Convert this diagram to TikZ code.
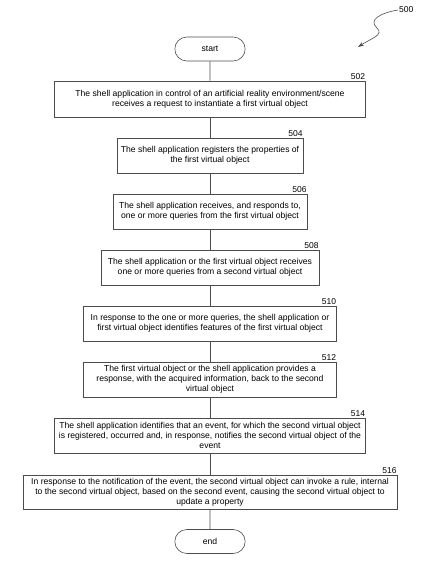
\documentclass[tikz,border=0pt]{standalone}
\usepackage{fontspec}
\setmainfont{Liberation Sans}
\usetikzlibrary{arrows.meta,shapes.misc}
\begin{document}
\begin{tikzpicture}[x=1pt,y=-1pt,
  line/.style={draw=black!70,line width=0.6pt},
  stepbox/.style={line,rectangle,align=center,inner sep=1pt,
    font=\fontsize{8.6}{10.2}\selectfont},
  term/.style={line,rounded rectangle,minimum width=77pt,minimum height=24pt,
    font=\fontsize{8.6}{10}\selectfont},
  ref/.style={font=\fontsize{8.5}{9}\selectfont,anchor=south east,inner sep=0.5pt}]
\useasboundingbox (0,0) rectangle (442,586);
\node[term] (start) at (210,49) {start};
\node[stepbox,minimum width=311pt,minimum height=36pt] (b502) at (210,99)
  {The shell application in control of an artificial reality environment/scene\\receives a request to instantiate a first virtual object};
\node[stepbox,minimum width=186pt,minimum height=35pt] (b504) at (210,155.5)
  {The shell application registers the properties of\\the first virtual object};
\node[stepbox,minimum width=194pt,minimum height=35pt] (b506) at (210,211.5)
  {The shell application receives, and responds to,\\one or more queries from the first virtual object};
\node[stepbox,minimum width=218pt,minimum height=35pt] (b508) at (210,267.5)
  {The shell application or the first virtual object receives\\one or more queries from a second virtual object};
\node[stepbox,minimum width=253pt,minimum height=35pt] (b510) at (210,323.5)
  {In response to the one or more queries, the shell application or\\first virtual object identifies features of the first virtual object};
\node[stepbox,minimum width=253pt,minimum height=35pt] (b512) at (210,379.5)
  {The first virtual object or the shell application provides a\\response, with the acquired information, back to the second\\virtual object};
\node[stepbox,minimum width=311pt,minimum height=35pt] (b514) at (210,435.5)
  {The shell application identifies that an event, for which the second virtual object\\is registered, occurred and, in response, notifies the second virtual object of the\\event};
\node[stepbox,minimum width=374pt,minimum height=34pt] (b516) at (210,492)
  {In response to the notification of the event, the second virtual object can invoke a rule, internal\\to the second virtual object, based on the second event, causing the second virtual object to\\update a property};
\node[term] (end) at (210,541.5) {end};
\foreach \n in {502,504,506,508,510,512,514,516}
  \node[ref] (l\n) at (b\n.north east) {\n};
\draw[line] (start) -- (b502);
\draw[line] (b502) -- (b504);
\draw[line] (b504) -- (b506);
\draw[line] (b506) -- (b508);
\draw[line] (b508) -- (b510);
\draw[line] (b510) -- (b512);
\draw[line] (b512) -- (b514);
\draw[line] (b514) -- (b516);
\draw[line] (b516) -- (end);
\node[font=\fontsize{8.5}{9}\selectfont,anchor=west,inner sep=1pt] (l500) at (398,10) {500};
\coordinate (tip) at (358,47);
\draw[line,-{Stealth[length=6pt,width=4pt]}] (l500.west) .. controls (380,13) and (368,20) .. (377,28)
  .. controls (384,35) and (372,38) .. (tip);
\end{tikzpicture}
\end{document}
